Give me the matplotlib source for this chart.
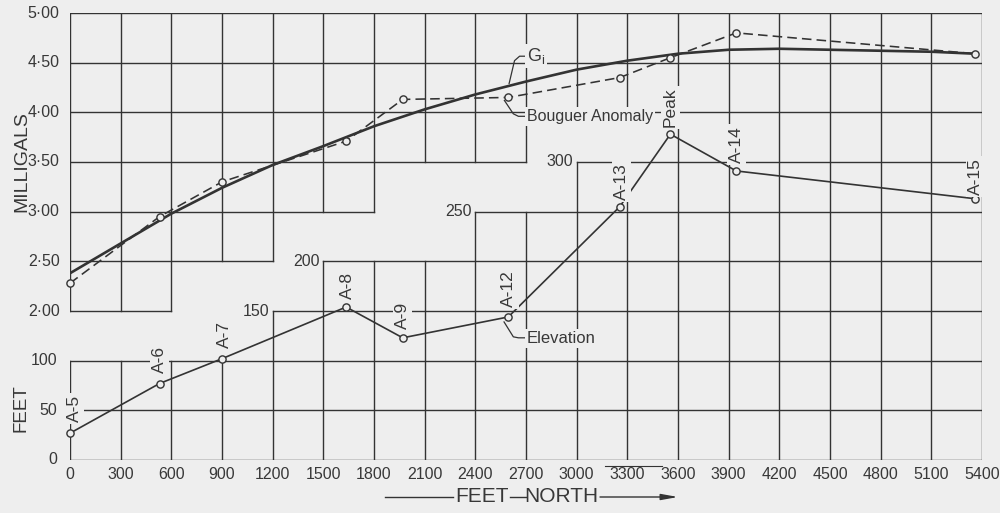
import matplotlib
matplotlib.use("Agg")
import matplotlib.pyplot as plt
from matplotlib import font_manager
from matplotlib.lines import Line2D

# ---------------- data ----------------
station_labels = ["A-5", "A-6", "A-7", "A-8", "A-9", "A-12", "A-13", "Peak", "A-14", "A-15"]
station_ft = [0, 530, 900, 1635, 1970, 2595, 3255, 3555, 3945, 5360]
elevation_ft = [27, 77, 102, 154, 123, 144, 255, 328, 291, 263]
bouguer_mgal = [2.28, 2.95, 3.30, 3.71, 4.13, 4.15, 4.35, 4.55, 4.80, 4.59]

gi_ft = [0, 300, 600, 900, 1200, 1500, 1800, 2100, 2400, 2700, 3000, 3300,
         3600, 3900, 4200, 4500, 4800, 5100, 5360]
gi_mgal = [2.38, 2.68, 2.98, 3.24, 3.47, 3.66, 3.86, 4.03, 4.18, 4.31, 4.43, 4.52,
           4.59, 4.63, 4.64, 4.63, 4.62, 4.61, 4.59]

x_ticks = list(range(0, 5401, 300))
x_tick_labels = [str(v) for v in x_ticks]
mgal_ticks = [2.00, 2.50, 3.00, 3.50, 4.00, 4.50, 5.00]
mgal_tick_labels = ["2·00", "2·50", "3·00", "3·50", "4·00", "4·50", "5·00"]
feet_ticks = [0, 50, 100, 150, 200, 250, 300]
feet_tick_x = [0, 0, 0, 1200, 1500, 2400, 3000]

# stepped graph-paper blocks: (x start, x end, lower edge in mGal) / (x start, x end, upper edge in feet)
mgal_grid_steps = [(0, 600, 2.00), (600, 1200, 2.50), (1200, 1800, 3.00),
                   (1800, 2700, 3.50), (2700, 3600, 4.00), (3600, 5400, 3.50)]
feet_grid_steps = [(0, 1200, 100), (1200, 1500, 150), (1500, 2400, 200),
                   (2400, 3000, 250), (3000, 5400, 300)]

# ---------------- style ----------------
BG = "#eeeeee"
INK = "#333333"
TXT = "#383838"

names = {f.name for f in font_manager.fontManager.ttflist}
REG = [n for n in ["Liberation Sans", "DejaVu Sans"] if n in names]
NARROW = [n for n in ["Liberation Sans Narrow", "Liberation Sans", "DejaVu Sans"] if n in names]

fig = plt.figure(figsize=(10, 5.13), dpi=100, facecolor=BG)
ax = fig.add_axes([0.070, 1 - 460 / 513, 0.912, (460 - 13) / 513])
ax.set_xlim(0, 5400)
ax.set_ylim(0, 450)          # feet, 50 ft per row
ax.patch.set_visible(False)
ax2 = ax.twinx()
ax2.set_ylim(0.5, 5.0)       # milligals, 0.5 mGal per row
ax2.patch.set_visible(False)

for a in (ax, ax2):
    for s in a.spines.values():
        s.set_visible(False)
    a.tick_params(left=False, right=False, labelleft=False, labelright=False)
ax.tick_params(axis="x", length=0, pad=5.0)
ax.set_xticks(x_ticks)
ax.set_xticklabels(x_tick_labels, fontfamily=NARROW, fontsize=11.5, color=TXT)

# ---------- grid built from cells ----------
FT_ROW = 50.0
cells = set()
for x0, x1, lo in mgal_grid_steps:
    r0 = int(round((lo - 0.5) / 0.5))
    for c in range(x0 // 300, x1 // 300):
        for r in range(r0, 9):
            cells.add((c, r))
for x0, x1, hi in feet_grid_steps:
    r1 = int(round(hi / FT_ROW))
    for c in range(x0 // 300, x1 // 300):
        for r in range(0, r1):
            cells.add((c, r))

hedges, vedges = set(), set()
for c, r in cells:
    hedges.add((r, c)); hedges.add((r + 1, c))
    vedges.add((c, r)); vedges.add((c + 1, r))

def runs(items):
    out = []
    items = sorted(items)
    start = prev = None
    for v in items:
        if start is None:
            start = prev = v
        elif v == prev + 1:
            prev = v
        else:
            out.append((start, prev + 1)); start = prev = v
    if start is not None:
        out.append((start, prev + 1))
    return out

rows = {}
for r, c in hedges:
    rows.setdefault(r, []).append(c)
for r, cs in rows.items():
    for a0, a1 in runs(cs):
        ax.plot([a0 * 300, a1 * 300], [r * FT_ROW, r * FT_ROW], color=INK, lw=1.0,
                solid_capstyle="projecting", zorder=1)
cols = {}
for c, r in vedges:
    cols.setdefault(c, []).append(r)
for c, rs in cols.items():
    for a0, a1 in runs(rs):
        ax.plot([c * 300, c * 300], [a0 * FT_ROW, a1 * FT_ROW], color=INK, lw=1.0,
                solid_capstyle="projecting", zorder=1)

# ---------- y labels at the stepped edges ----------
for v, lab in zip(mgal_ticks, mgal_tick_labels):
    ax2.annotate(lab, (0, v), xytext=(-7.5, 0), textcoords="offset points",
                 ha="right", va="center", fontsize=11.5, fontfamily=NARROW, color=TXT)
for v, xx in zip(feet_ticks, feet_tick_x):
    off = -9 if xx == 0 else -2.5
    ax.annotate(str(v), (xx, v), xytext=(off, 0), textcoords="offset points",
                ha="right", va="center", fontsize=11.5, fontfamily=NARROW, color=TXT)

# ---------- series ----------
ax.plot(station_ft, elevation_ft, color=INK, lw=1.2, marker="o", ms=5.2,
        mfc=BG, mec=INK, mew=1.0, zorder=3, clip_on=False)
ax2.plot(gi_ft, gi_mgal, color=INK, lw=1.9, zorder=3, solid_capstyle="round")
ax2.plot(station_ft, bouguer_mgal, color=INK, lw=1.15, ls=(0, (6, 3.2)), marker="o",
         ms=5.2, mfc=BG, mec=INK, mew=1.0, zorder=4, clip_on=False)

# station labels (rotated)
label_offsets = [(3.5, 8), (0, 7.5), (2, 8), (1, 5.5), (0, 6.5), (0.5, 7),
                 (1, 5), (0, 5), (0, 5.5), (0, 3)]
box = dict(boxstyle="square,pad=0.12", fc=BG, ec="none")
for lab, x, y, (dx, dy) in zip(station_labels, station_ft, elevation_ft, label_offsets):
    ax.annotate(lab, (x, y), xytext=(dx, dy), textcoords="offset points", rotation=90,
                ha="center", va="bottom", fontsize=12.5, fontfamily=REG, color=TXT,
                bbox=box, zorder=5)

# curve captions with leaders
ax2.plot([2600, 2632, 2662, 2700], [4.29, 4.52, 4.565, 4.565], color=INK, lw=0.9, zorder=5)
ax2.text(2705, 4.567, r"$\mathregular{G_i}$", ha="left", va="center", fontsize=13,
         fontfamily=REG, color=TXT, bbox=box, zorder=6)
ax2.plot([2572, 2625, 2655, 2700], [4.12, 3.985, 3.96, 3.96], color=INK, lw=0.9, zorder=5)
ax2.text(2705, 3.955, "Bouguer Anomaly", ha="left", va="center", fontsize=11.5,
         fontfamily=REG, color=TXT, bbox=box, zorder=6)
ax.plot([2570, 2625, 2655, 2700], [139, 124, 123, 123], color=INK, lw=0.9, zorder=5)
ax.text(2705, 122.5, "Elevation", ha="left", va="center", fontsize=12,
        fontfamily=REG, color=TXT, bbox=box, zorder=6)

# axis titles
fig.text(22 / 1000, 1 - 162 / 513, "MILLIGALS", rotation=90, ha="center", va="center",
         fontsize=14, fontfamily=REG, color=TXT)
fig.text(21 / 1000, 1 - 408 / 513, "FEET", rotation=90, ha="center", va="center",
         fontsize=13.5, fontfamily=REG, color=TXT)

yb = 1 - 497 / 513
fig.add_artist(Line2D([385 / 1000, 453 / 1000], [yb, yb], color=INK, lw=1.0))
fig.text(482 / 1000, yb, "FEET", ha="center", va="center", fontsize=15,
         fontfamily=REG, color=TXT)
fig.add_artist(Line2D([510 / 1000, 526 / 1000], [yb, yb], color=INK, lw=1.0))
fig.text(561 / 1000, yb, "NORTH", ha="center", va="center", fontsize=15,
         fontfamily=REG, color=TXT)
ax.annotate("", xy=(678 / 1000, yb), xytext=(600 / 1000, yb), xycoords="figure fraction",
            textcoords="figure fraction",
            arrowprops=dict(arrowstyle="-|>,head_length=1.0,head_width=0.18",
                            color=INK, lw=1.0, shrinkA=0, shrinkB=0))

# small stray rule under the axis near 3300 ft (present in the original print)
ax.plot([3170, 3505], [-6, -6], color=INK, lw=0.8, clip_on=False, zorder=1)

fig.savefig("out.png", dpi=100, facecolor=BG)
